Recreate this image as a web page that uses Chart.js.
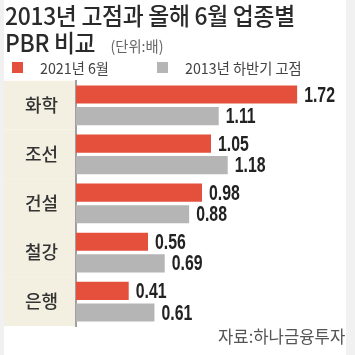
<!DOCTYPE html>
<html><head><meta charset="utf-8">
<script src="https://cdn.jsdelivr.net/npm/chart.js@4"></script>
<style>
html,body{margin:0;padding:0;background:#fff;}
#wrap{position:relative;width:355px;height:355px;overflow:hidden;background:#fff;font-family:"Noto Sans CJK KR",sans-serif;}
.strip{position:absolute;top:0;height:355px;background:#f1f1f1;}
#title1,#title2{position:absolute;left:5px;white-space:nowrap;color:#2a2a2a;font-size:24px;font-weight:500;transform-origin:0 0;transform:scaleX(0.95);letter-spacing:-0.3px;}
#title1{top:-3px;}
#title2{top:24px;}
#unit{font-size:15px;font-weight:400;color:#666;margin-left:16px;letter-spacing:0;}
#legend{position:absolute;top:58px;left:12px;font-size:15px;color:#444;white-space:nowrap;}
.li{position:absolute;top:0;}
.sw{position:absolute;top:4px;width:11px;height:11px;}
.lt{position:absolute;left:28px;top:-1px;transform-origin:0 0;transform:scaleX(0.95);}
#source{position:absolute;left:218px;top:323px;font-size:17px;color:#555;white-space:nowrap;transform-origin:0 0;transform:scaleX(0.98);}
canvas{position:absolute;left:0;top:0;}
</style></head>
<body>
<div id="wrap">
<div class="strip" style="left:0;width:4px"></div>
<div class="strip" style="left:346px;width:9px"></div>
<canvas id="c" width="355" height="355"></canvas>
<div id="title1">2013년 고점과 올해 6월 업종별</div>
<div id="title2">PBR 비교<span id="unit">(단위:배)</span></div>
<div id="legend"></div>
<div id="source">자료:하나금융투자</div>
</div>
<script>
const categories = ["화학", "조선", "건설", "철강", "은행"];
const seriesNames = ["2021년 6월", "2013년 하반기 고점"];
const values2021 = [1.72, 1.05, 0.98, 0.56, 0.41];
const values2013 = [1.11, 1.18, 0.88, 0.69, 0.61];
const seriesColors = ["#e5503c", "#b5b5b5"];

const bandPlugin = {
  id: 'bands',
  beforeDraw(chart) {
    const ctx = chart.ctx, ys = chart.scales.y;
    ctx.save();
    ctx.fillStyle = '#f3efe1';
    categories.forEach((c, j) => {
      const y = ys.getPixelForValue(j);
      ctx.fillRect(4, y - 24.5, chart.chartArea.left - 4, 49);
    });
    ctx.restore();
  }
};

const valueLabels = {
  id: 'valueLabels',
  afterDatasetsDraw(chart) {
    const ctx = chart.ctx;
    chart.data.datasets.forEach((ds, i) => {
      const meta = chart.getDatasetMeta(i);
      meta.data.forEach((bar, j) => {
        const txt = ds.data[j].toFixed(2);
        ctx.save();
        ctx.translate(bar.x + 7, bar.y + 1);
        ctx.scale(0.72, 1);
        ctx.font = 'bold 22px "Liberation Sans", Arial, sans-serif';
        ctx.fillStyle = '#222';
        ctx.textBaseline = 'middle';
        ctx.textAlign = 'left';
        ctx.fillText(txt, 0, 0);
        ctx.restore();
      });
    });
  }
};

const chart = new Chart(document.getElementById('c'), {
  type: 'bar',
  data: {
    labels: categories,
    datasets: [
      { label: seriesNames[0], data: values2021, backgroundColor: seriesColors[0], borderWidth: 0, categoryPercentage: 0.88, barPercentage: 0.84 },
      { label: seriesNames[1], data: values2013, backgroundColor: seriesColors[1], borderWidth: 0, categoryPercentage: 0.88, barPercentage: 0.84 }
    ]
  },
  options: {
    indexAxis: 'y',
    responsive: false,
    animation: false,
    layout: { padding: { top: 80.75, bottom: 6.75, left: 0, right: 9 } },
    plugins: { legend: { display: false }, tooltip: { enabled: false }, title: { display: false } },
    scales: {
      x: { display: false, min: 0, max: 2.1 },
      y: {
        grid: { display: false, drawTicks: false },
        border: { display: true, color: '#a0a0a0', width: 2 },
        ticks: { font: { family: '"Noto Sans CJK KR"', size: 18, weight: '500' }, color: '#333', padding: 18 },
        afterFit(scale) { scale.width = 76; }
      }
    }
  },
  plugins: [bandPlugin, valueLabels]
});

// HTML legend from dataset labels/colors
const lg = document.getElementById('legend');
const offsets = [0, 145];
chart.data.datasets.forEach((ds, i) => {
  const d = document.createElement('div');
  d.className = 'li';
  d.style.left = offsets[i] + 'px';
  d.innerHTML = '<span class="sw" style="left:0;background:' + ds.backgroundColor + '"></span><span class="lt">' + ds.label + '</span>';
  lg.appendChild(d);
});
</script>
</body></html>
